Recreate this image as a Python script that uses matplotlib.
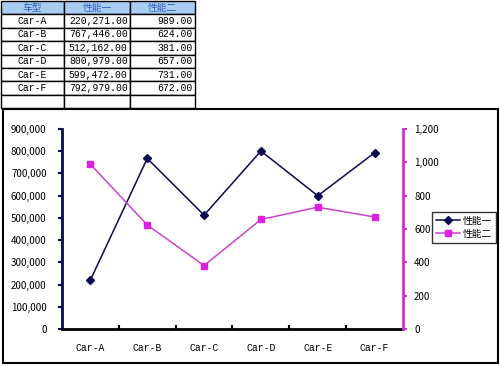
import matplotlib.pyplot as plt
from matplotlib.patches import Rectangle
from matplotlib.ticker import FuncFormatter

cars = ['Car-A', 'Car-B', 'Car-C', 'Car-D', 'Car-E', 'Car-F']
perf1 = [220271, 767446, 512162, 800979, 599472, 792979]
perf2 = [989, 624, 381, 657, 731, 672]
headers = ['车型', '性能一', '性能二']
left_ticks = [0, 100000, 200000, 300000, 400000, 500000, 600000, 700000, 800000, 900000]
right_ticks = [0, 200, 400, 600, 800, 1000, 1200]

plt.rcParams['font.family'] = ['Noto Sans CJK SC', 'DejaVu Sans']
W, H = 500, 366
fig = plt.figure(figsize=(W / 100, H / 100), dpi=100)

# table at the top
tab_ax = fig.add_axes([0.002, 1 - 108 / H, 194 / W, 107 / H])
tab_ax.axis('off')
rows = [[c, '{:,.2f}'.format(a), '{:,.2f}'.format(b)] for c, a, b in zip(cars, perf1, perf2)]
rows.append(['', '', ''])
tab = tab_ax.table(cellText=rows, colLabels=headers, bbox=[0, 0, 1, 1],
                   colWidths=[63, 67, 65], cellLoc='right')
tab.auto_set_font_size(False)
for (r, c), cell in tab.get_celld().items():
    cell.set_linewidth(1.0)
    cell.set_edgecolor('black')
    cell.get_text().set_fontsize(7)
    cell.PAD = 0.04
    if r == 0:
        cell.set_facecolor('#a8ccf2')
        cell.get_text().set_color('#2f5fb8')
        cell.get_text().set_ha('center')
        cell._loc = 'center'
    elif c == 0:
        cell._loc = 'center'
        cell.get_text().set_ha('center')
        cell.get_text().set_family('Liberation Mono')
    else:
        cell.get_text().set_family('Liberation Mono')

# chart frame
fig.patches.append(Rectangle((3 / W, 1 - 363 / H), 495 / W, 254 / H,
                             transform=fig.transFigure, fill=False,
                             edgecolor='black', linewidth=1.5))

ax = fig.add_axes([62 / W, 1 - 329 / H, 341 / W, 200 / H])
ax2 = ax.twinx()
x = list(range(len(cars)))
l1, = ax.plot(x, perf1, color='#0a0a50', marker='D', markersize=4, linewidth=1.1, label='性能一')
l2, = ax2.plot(x, perf2, color='#cc44cc', marker='s', markersize=5,
               markerfacecolor='#e020e0', markeredgecolor='#e020e0', linewidth=1.1, label='性能二')

ax.set_xlim(-0.5, 5.5)
ax.set_ylim(0, 900000)
ax2.set_ylim(0, 1200)
ax.set_yticks(left_ticks)
ax2.set_yticks(right_ticks)
ax.yaxis.set_major_formatter(FuncFormatter(lambda v, p: '{:,}'.format(int(v))))
ax2.yaxis.set_major_formatter(FuncFormatter(lambda v, p: '{:,}'.format(int(v))))

ax.set_xticks(x)
ax.set_xticklabels(cars, family='Liberation Mono', fontsize=7)
ax.tick_params(axis='x', length=0, pad=10)
ax.set_xticks([i + 0.5 for i in range(5)], minor=True)
ax.tick_params(axis='x', which='minor', direction='in', length=3, width=1.5, color='black')
ax.tick_params(axis='y', labelsize=7, length=3, width=1.5, color='#0a0a50', pad=8)
ax2.tick_params(axis='y', labelsize=7, length=3, width=1.5, color='#cc33cc', pad=5)

for a in (ax, ax2):
    a.spines['top'].set_visible(False)
ax.spines['right'].set_visible(False)
ax2.spines['left'].set_visible(False)
ax2.spines['bottom'].set_visible(False)
ax.spines['left'].set_color('#0a0a50')
ax.spines['left'].set_linewidth(2)
ax2.spines['right'].set_color('#cc33cc')
ax2.spines['right'].set_linewidth(2)
ax.spines['bottom'].set_linewidth(2)

fig.legend(handles=[l1, l2], loc='upper left', bbox_to_anchor=(432 / W, 1 - 212 / H),
           fontsize=7, frameon=True, fancybox=False, edgecolor='black',
           handlelength=2.5, borderpad=0.4, labelspacing=0.3, handletextpad=0.3,
           borderaxespad=0)

fig.savefig('out.png', dpi=100)
